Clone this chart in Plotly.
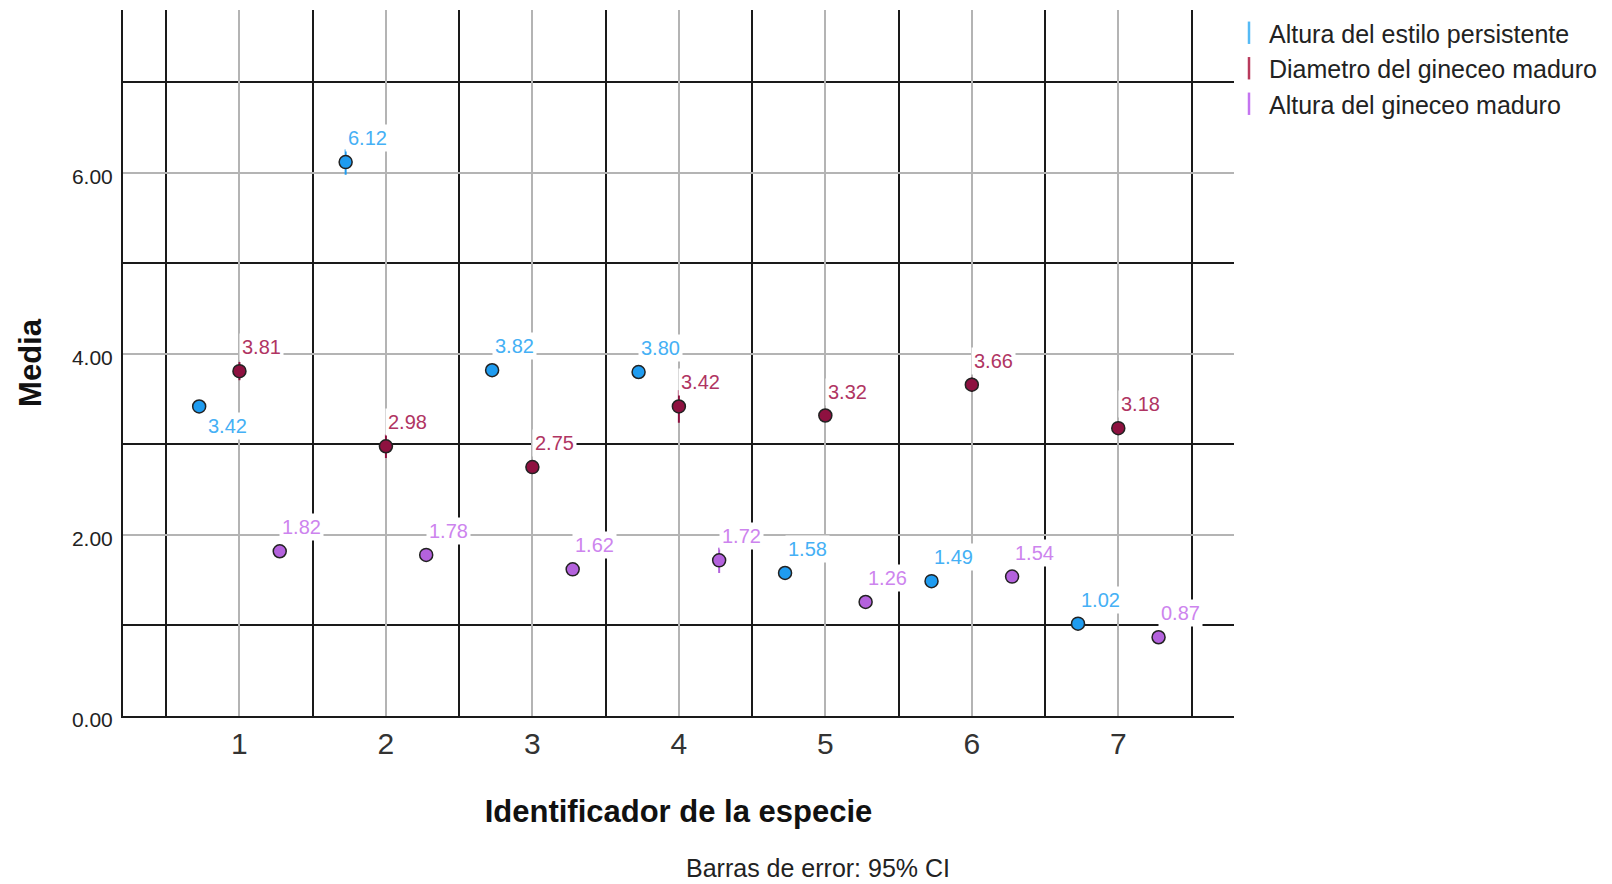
import plotly.graph_objects as go

# ---------------- data ----------------
species = [1, 2, 3, 4, 5, 6, 7]
series_names = [
    "Altura del estilo persistente",
    "Diametro del gineceo maduro",
    "Altura del gineceo maduro",
]
altura_estilo = [3.42, 6.12, 3.82, 3.80, 1.58, 1.49, 1.02]
diametro_gineceo = [3.81, 2.98, 2.75, 3.42, 3.32, 3.66, 3.18]
altura_gineceo = [1.82, 1.78, 1.62, 1.72, 1.26, 1.54, 0.87]
ci_altura_estilo = [0.05, 0.14, 0.05, 0.06, 0.04, 0.04, 0.04]
ci_diametro_gineceo = [0.10, 0.13, 0.06, 0.18, 0.05, 0.08, 0.05]
ci_altura_gineceo = [0.05, 0.05, 0.05, 0.14, 0.04, 0.05, 0.04]
y_tick_vals = [0, 2, 4, 6]
y_tick_text = ["0.00", "2.00", "4.00", "6.00"]
x_title = "Identificador de la especie"
y_title = "Media"
footnote = "Barras de error: 95% CI"

# ---------------- styles ----------------
FONT = "Liberation Sans, Arial, sans-serif"
series_values = [altura_estilo, diametro_gineceo, altura_gineceo]
series_ci = [ci_altura_estilo, ci_diametro_gineceo, ci_altura_gineceo]
x_offsets = [-0.275, 0.0, 0.275]
marker_colors = ["#1f9cf0", "#8e1140", "#b462dd"]
label_colors = ["#45b0f5", "#b03462", "#cd84ee"]
legend_colors = ["#55baf5", "#b83a5c", "#c474f0"]
default_shift = (22, 24)
shift_override = {(0, 0): (28, -20)}

fig = go.Figure()

annotations = []
for k, (name, vals, ci) in enumerate(zip(series_names, series_values, series_ci)):
    xs = [s + x_offsets[k] for s in species]
    fig.add_trace(go.Scatter(
        x=xs, y=vals, mode="markers", name=name, showlegend=False,
        marker=dict(size=13, color=marker_colors[k],
                    line=dict(color="#222222", width=1.5)),
        error_y=dict(type="data", array=ci, visible=True,
                     color=marker_colors[k], thickness=2, width=0),
        hoverinfo="x+y",
    ))
    for i, (x, v) in enumerate(zip(xs, vals)):
        dx, dy = shift_override.get((k, i), default_shift)
        annotations.append(dict(
            x=x, y=v, xref="x", yref="y", text=f"{v:.2f}", showarrow=False,
            xshift=dx, yshift=dy, bgcolor="white", borderpad=2,
            font=dict(family=FONT, size=20, color=label_colors[k]),
        ))

# legend-only traces with vertical line symbols
for k, name in enumerate(series_names):
    fig.add_trace(go.Scatter(
        x=[None], y=[None], mode="markers", name=name,
        marker=dict(symbol="line-ns-open", size=20, color=legend_colors[k],
                    line=dict(color=legend_colors[k], width=2.5)),
    ))

annotations.append(dict(
    x=0.6255, y=-0.238, xref="paper", yref="paper", text=footnote,
    showarrow=False, xanchor="center", yanchor="bottom",
    font=dict(family=FONT, size=25, color="#222222"),
))

fig.update_layout(
    width=1612, height=884,
    margin=dict(l=123, r=378, t=10, b=168),
    paper_bgcolor="white", plot_bgcolor="white",
    font=dict(family=FONT, color="#222222"),
    showlegend=True,
    legend=dict(x=0.9955, y=1.0, xanchor="left", yanchor="top",
                font=dict(family=FONT, size=25, color="#222222"),
                bgcolor="rgba(0,0,0,0)", borderwidth=0, tracegroupgap=0),
    annotations=annotations,
)

fig.update_xaxes(
    range=[0.205, 7.79], tickmode="array", tickvals=species,
    ticktext=[str(s) for s in species],
    tickfont=dict(family=FONT, size=30, color="#333333"),
    showgrid=True, gridcolor="#b4b4b4", gridwidth=1.5,
    minor=dict(tick0=0.5, dtick=1, showgrid=True, gridcolor="#1a1a1a",
               gridwidth=1.8),
    showline=True, linecolor="#1a1a1a", linewidth=2,
    ticks="", zeroline=False, ticklabelstandoff=0,
    title=dict(text=x_title, standoff=41,
               font=dict(family=FONT, size=31, color="#111111", weight="bold")),
)
fig.update_yaxes(
    range=[0, 7.8], tickmode="array", tickvals=y_tick_vals, ticktext=y_tick_text,
    tickfont=dict(family=FONT, size=21, color="#222222"),
    showgrid=True, gridcolor="#b4b4b4", gridwidth=1.5,
    minor=dict(tick0=1, dtick=2, showgrid=True, gridcolor="#1a1a1a",
               gridwidth=1.8),
    showline=True, linecolor="#1a1a1a", linewidth=2,
    ticks="", zeroline=False, ticklabelstandoff=4, ticklabelshift=4,
    title=dict(text=y_title, standoff=21,
               font=dict(family=FONT, size=31, color="#111111", weight="bold")),
)

fig.write_html("out.html", config={"displayModeBar": False},
               post_script="document.body.style.margin='0px';")
